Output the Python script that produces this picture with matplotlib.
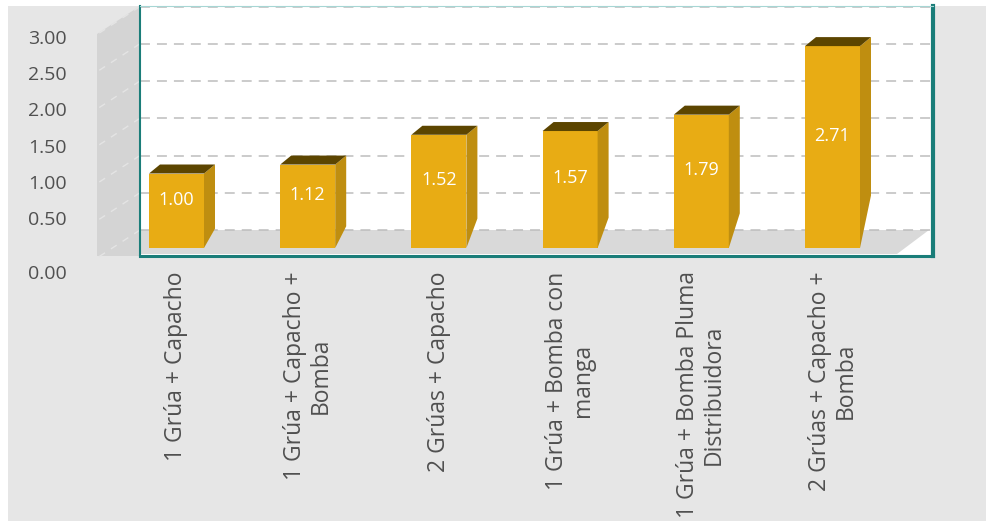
import matplotlib
matplotlib.use('Agg')
import matplotlib.pyplot as plt
from matplotlib.patches import Polygon, Rectangle

plt.rcParams['font.family'] = ['Open Sans', 'DejaVu Sans']

# Data
categories = ['1 Grúa + Capacho',
              '1 Grúa + Capacho +\nBomba',
              '2 Grúas + Capacho',
              '1 Grúa + Bomba con\nmanga',
              '1 Grúa + Bomba Pluma\nDistribuidora',
              '2 Grúas + Capacho +\nBomba']
values = [1.00, 1.12, 1.52, 1.57, 1.79, 2.71]
tick_values = [0.0, 0.5, 1.0, 1.5, 2.0, 2.5, 3.0]
tick_labels = ['0.00', '0.50', '1.00', '1.50', '2.00', '2.50', '3.00']

# Colours
bg = '#e6e6e6'
wall_c = '#d4d4d4'
floor_c = '#d9d9d9'
teal = '#1a7d79'
front_c = '#e8ac14'
side_c = '#bf8e10'
top_c = '#5c4500'
grid_c = '#bdbdbd'
text_c = '#505050'

W, H = 986, 521
figure = plt.figure(figsize=(W / 100, H / 100), dpi=100, facecolor='white')

# background panel (pixel coordinates)
bgax = figure.add_axes([0, 0, 1, 1])
bgax.set_xlim(0, W)
bgax.set_ylim(H, 0)
bgax.axis('off')
bgax.add_patch(Rectangle((8, 6), W - 8, H - 6, color=bg, lw=0))
# left wall
bgax.add_patch(Polygon([(97, 34), (140, 6), (140, 256), (97, 256)], closed=True, color=wall_c, lw=0))

# main axes: plot box
L, R, T, B = 140, 933, 6, 256
ax = figure.add_axes([L / W, (H - B) / H, (R - L) / W, (B - T) / H])
px_x = 131.2   # pixels per category step
px_y = 74.5    # pixels per unit
ax.set_xlim((L - 176.5) / px_x, (R - 176.5) / px_x)
ax.set_ylim(-8 / px_y, (B - T - 8) / px_y)
ax.set_facecolor('white')

back = 18 / px_y          # back wall baseline above the front baseline
dx = 11 / px_x            # depth offset
dy = 9 / px_y
bw = 55 / px_x            # bar width
xl, xr = ax.get_xlim()

# floor
floor = Polygon([(xl, back), ((929 - 176.5) / px_x, back),
                 ((897 - 176.5) / px_x, -6 / px_y), (xl, -6 / px_y)],
                closed=True, color=floor_c, lw=0, zorder=1)
ax.add_patch(floor)

# gridlines on back wall and side wall
for v in tick_values:
    ax.hlines(v + back, xl, xr, colors=grid_c, lw=1.1, linestyles=(0, (6.5, 4.6)), zorder=2)
    ax.plot([xl, xl - 43 / px_x], [v + back, v + back - 28 / px_y], color='#e4e4e4',
            lw=1.0, ls=(0, (5, 5)), clip_on=False, zorder=0)

# bars (front face + side + top)
xs = list(range(len(values)))
ax.bar(xs, values, width=bw, color=front_c, zorder=3)
for x, v in zip(xs, values):
    a, b = x - bw / 2, x + bw / 2
    ax.add_patch(Polygon([(b, 0), (b + dx, 0.26 * v), (b + dx, v + dy), (b, v)],
                         closed=True, color=side_c, lw=0, zorder=3))
    ax.add_patch(Polygon([(a, v), (b, v), (b + dx, v + dy), (a + dx, v + dy)],
                         closed=True, color=top_c, lw=0, zorder=3))
    ax.text(x, v / 2 + 0.15, '%.2f' % v, color='white', fontsize=13,
            ha='center', va='center', zorder=4)

# spines
for s in ax.spines.values():
    s.set_color(teal)
ax.spines['left'].set_linewidth(1.5)
ax.spines['bottom'].set_linewidth(2.2)
ax.spines['right'].set_linewidth(3)
ax.spines['top'].set_color('#a6d6d4')
ax.spines['top'].set_linewidth(0.8)
ax.set_yticks([])
ax.set_xticks(xs)
ax.set_xticklabels(categories, rotation=90, fontsize=16.5, color=text_c,
                   multialignment='center', linespacing=1.1)
ax.tick_params(axis='x', length=0, pad=11)

# value axis labels along the front edge of the wall
ay = figure.add_axes([68 / W, (H - 300) / H, 0.001, 300 / H])
ay.set_ylim((254.2 - 300) / 72.4, 254.2 / 72.4)
ay.set_xticks([])
ay.set_yticks([v if v > 0 else -0.246 for v in tick_values])
ay.set_yticklabels(tick_labels, fontsize=14, color=text_c)
ay.tick_params(axis='y', length=0, pad=1)
for s in ay.spines.values():
    s.set_visible(False)
ay.patch.set_alpha(0)

figure.savefig('out.png', dpi=100, facecolor='white')
